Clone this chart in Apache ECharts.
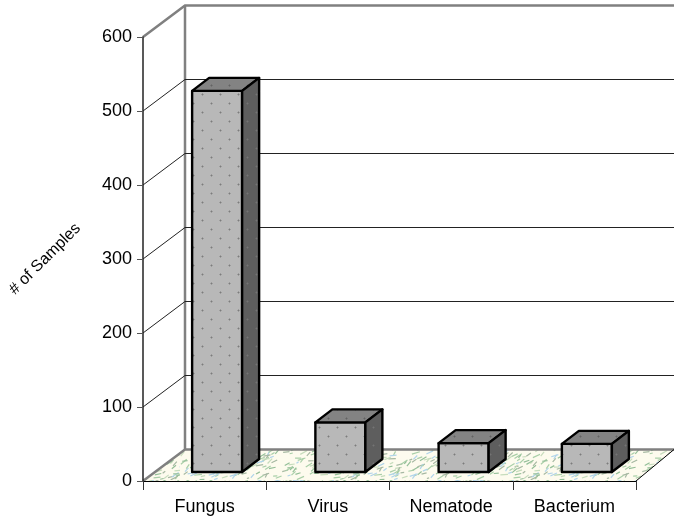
<!DOCTYPE html>
<html>
<head>
<meta charset="utf-8">
<style>
  html, body { margin: 0; padding: 0; background: #fff; }
  #chart { width: 674px; height: 521px; }
</style>
<script src="https://cdn.jsdelivr.net/npm/echarts@6/dist/echarts.min.js"></script>
</head>
<body>
<div id="chart"></div>
<script>
const categories = ['Fungus', 'Virus', 'Nematode', 'Bacterium']
const samples = [515, 67, 39, 38]
const gridValues = [100, 200, 300, 400, 500]

// 3D look: offset of the back wall and of the bar depth, in pixels
const WALL_DX = 42
const WALL_DY = 31.5
const BAR_DX = 17
const BAR_DY = 13
const BAR_W = 50
const BAR_SHIFT_X = 12.5
const BAR_SHIFT_Y = 9
const AXIS_MAX = 600

// dotted fill for the bar faces
const dotted = (base, dot, halo) => {
  const c = document.createElement('canvas')
  c.width = 18
  c.height = 18
  const g = c.getContext('2d')
  g.fillStyle = base
  g.fillRect(0, 0, 18, 18)
  ;[[4, 4], [13, 13]].forEach(([x, y]) => {
    g.fillStyle = halo
    g.fillRect(x - 1, y, 3, 1)
    g.fillRect(x, y - 1, 1, 3)
    g.fillStyle = dot
    g.fillRect(x, y, 1, 1)
  })
  return { image: c, repeat: 'repeat' }
}

// floor texture, speckled with short strokes
const floorTexture = () => {
  const c = document.createElement('canvas')
  c.width = 180
  c.height = 60
  const g = c.getContext('2d')
  g.fillStyle = '#fdfbee'
  g.fillRect(0, 0, 180, 60)
  let s = 7
  const next = () => {
    s = (s * 137 + 59) % 1009
    return s / 1009
  }
  const colors = ['#a9cfa8', '#94bf98', '#c6dcbc', '#a6b8a2', '#b0d4ea']
  for (let i = 0; i < 400; i++) {
    const x = next() * 180
    const y = next() * 60
    g.strokeStyle = colors[Math.floor(next() * colors.length)]
    g.lineWidth = 1.2
    g.beginPath()
    g.moveTo(x, y)
    g.lineTo(x + 2 + next() * 6, y - next() * 5)
    g.stroke()
  }
  return { image: c, repeat: 'repeat' }
}

const frontFill = dotted('#b8b8b8', '#7c7c7c', '#9c9c9c')
const topFill = dotted('#838383', '#636363', '#737373')
const sideFill = dotted('#5e5e5e', '#747474', '#686868')
const floorFill = floorTexture()

// pixel y of a value, linear over the grid (0 at the bottom, axis max at the top)
const valueY = (v, r) => r.y + r.height - (v / AXIS_MAX) * r.height

// floor, walls and grid lines behind the bars
const renderBackdrop = (params) => {
  const r = params.coordSys
  const left = r.x
  const right = r.x + r.width
  const top = r.y
  const bottom = r.y + r.height
  const backX = left + WALL_DX
  const chartW = 674
  const children = [
    {
      type: 'polygon',
      shape: { points: [[left, bottom], [backX, bottom - WALL_DY], [chartW, bottom - WALL_DY], [right, bottom]] },
      style: { fill: floorFill, stroke: null },
    },
    {
      type: 'polyline',
      shape: { points: [[left, bottom], [backX, bottom - WALL_DY], [chartW, bottom - WALL_DY]] },
      style: { fill: null, stroke: '#808080', lineWidth: 2.5 },
    },
    {
      type: 'line',
      shape: { x1: right, y1: bottom, x2: chartW, y2: bottom - WALL_DY },
      style: { stroke: '#000', lineWidth: 1 },
    },
    {
      type: 'polyline',
      shape: { points: [[left, top], [backX, top - WALL_DY], [chartW, top - WALL_DY]] },
      style: { fill: null, stroke: '#808080', lineWidth: 2.5 },
    },
    {
      type: 'line',
      shape: { x1: backX, y1: top - WALL_DY, x2: backX, y2: bottom - WALL_DY },
      style: { stroke: '#808080', lineWidth: 2.5 },
    },
  ]
  gridValues.forEach((v) => {
    const y = valueY(v, r)
    children.push({
      type: 'polyline',
      shape: { points: [[left, y], [backX, y - WALL_DY], [chartW, y - WALL_DY]] },
      style: { fill: null, stroke: '#222', lineWidth: 1 },
    })
  })
  return { type: 'group', children }
}

const renderBar = (params, api) => {
  const idx = api.value(0)
  const top = api.coord([idx, api.value(1)])
  const base = api.coord([idx, 0])
  const x0 = top[0] - BAR_W / 2 + BAR_SHIFT_X
  const x1 = x0 + BAR_W
  const y0 = top[1] - BAR_SHIFT_Y
  const y1 = base[1] - BAR_SHIFT_Y
  const stroke = { stroke: '#000', lineWidth: 2.4, lineJoin: 'round' }
  return {
    type: 'group',
    children: [
      {
        type: 'polygon',
        shape: { points: [[x0, y0], [x1, y0], [x1, y1], [x0, y1]] },
        style: { fill: frontFill, ...stroke },
      },
      {
        type: 'polygon',
        shape: { points: [[x0, y0], [x0 + BAR_DX, y0 - BAR_DY], [x1 + BAR_DX, y0 - BAR_DY], [x1, y0]] },
        style: { fill: topFill, ...stroke },
      },
      {
        type: 'polygon',
        shape: { points: [[x1, y0], [x1 + BAR_DX, y0 - BAR_DY], [x1 + BAR_DX, y1 - BAR_DY], [x1, y1]] },
        style: { fill: sideFill, ...stroke },
      },
    ],
  }
}

const chart = echarts.init(document.getElementById('chart'), null, { renderer: 'canvas' })
const labelFont = { fontFamily: '"Liberation Sans", Arial, sans-serif', color: '#000' }

chart.setOption({
  animation: false,
  backgroundColor: '#fff',
  grid: { left: 143, right: 38, top: 37, bottom: 40, outerBoundsMode: 'none' },
  xAxis: {
    type: 'category',
    data: categories,
    z: 10,
    axisLine: { show: true, lineStyle: { color: '#000', width: 1 } },
    axisTick: { show: true, length: 9, lineStyle: { color: '#333', width: 1 } },
    axisLabel: { ...labelFont, fontSize: 18, margin: 17 },
    splitLine: { show: false },
  },
  yAxis: {
    type: 'value',
    min: 0,
    max: AXIS_MAX,
    interval: 100,
    z: 10,
    name: '# of Samples',
    nameLocation: 'middle',
    nameRotate: 45,
    nameGap: 98,
    nameTextStyle: { ...labelFont, fontSize: 16, align: 'center', verticalAlign: 'middle' },
    axisLine: { show: true, lineStyle: { color: '#222', width: 1.5 } },
    axisTick: { show: true, length: 6, lineStyle: { color: '#555', width: 1 } },
    axisLabel: { ...labelFont, fontSize: 18, margin: 11 },
    splitLine: { show: false },
  },
  series: [
    {
      type: 'custom',
      name: 'backdrop',
      z: 1,
      silent: true,
      renderItem: renderBackdrop,
      data: [[0, 0]],
      encode: { x: 0, y: 1 },
    },
    {
      type: 'custom',
      name: '# of Samples',
      z: 3,
      renderItem: renderBar,
      data: samples.map((v, i) => [i, v]),
      encode: { x: 0, y: 1 },
    },
  ],
})
</script>
</body>
</html>
